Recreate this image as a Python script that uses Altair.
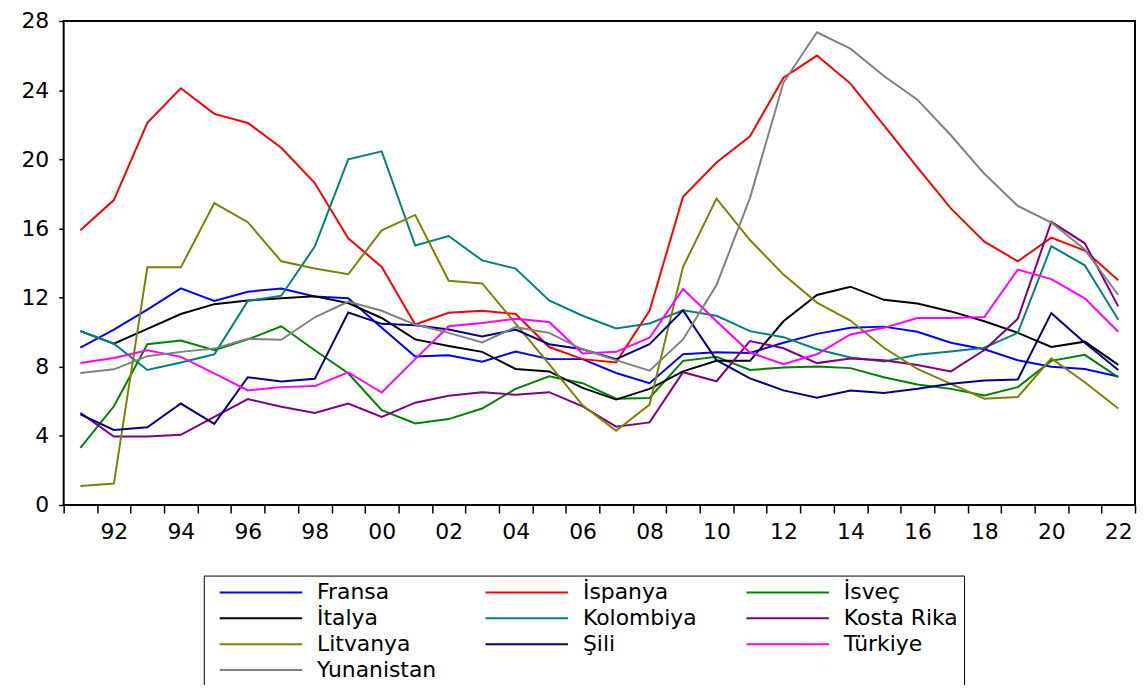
import altair as alt
import pandas as pd

years = list(range(1991, 2023))

countries = ["Fransa", "İspanya", "İsveç", "İtalya", "Kolombiya",
             "Kosta Rika", "Litvanya", "Şili", "Türkiye", "Yunanistan"]
colors = ["#0000FF", "#FF0000", "#008000", "#000000", "#008080",
          "#800080", "#808000", "#000080", "#FF00FF", "#808080"]

fransa = [9.10, 10.15, 11.30, 12.53, 11.81, 12.34, 12.53, 12.06, 11.96, 10.25, 8.59, 8.67, 8.29, 8.88, 8.44, 8.44,
          7.64, 7.05, 8.72, 8.84, 8.80, 9.39, 9.90, 10.25, 10.32, 10.02, 9.39, 9.01, 8.38, 8.00, 7.87, 7.43]
ispanya = [15.90, 17.64, 22.11, 24.11, 22.63, 22.10, 20.67, 18.63, 15.43, 13.77, 10.44, 11.12, 11.24, 11.05, 9.14, 8.44,
           8.25, 11.24, 17.83, 19.81, 21.33, 24.72, 26.00, 24.38, 21.96, 19.54, 17.16, 15.24, 14.10, 15.47, 14.72, 13.01]
isvec = [3.30, 5.71, 9.30, 9.52, 8.95, 9.58, 10.34, 8.95, 7.62, 5.49, 4.72, 4.97, 5.58, 6.72, 7.45, 7.05,
         6.15, 6.19, 8.34, 8.57, 7.81, 7.96, 8.02, 7.92, 7.39, 6.97, 6.72, 6.34, 6.82, 8.34, 8.69, 7.39]
italya = [10.06, 9.33, 10.19, 11.05, 11.62, 11.83, 11.96, 12.08, 11.68, 10.82, 9.58, 9.20, 8.86, 7.87, 7.73, 6.78,
          6.10, 6.72, 7.73, 8.34, 8.34, 10.63, 12.15, 12.63, 11.87, 11.66, 11.20, 10.63, 9.96, 9.14, 9.45, 8.11]
kolombiya = [10.06, 9.33, 7.81, 8.25, 8.72, 11.81, 12.11, 14.95, 20.00, 20.46, 15.01, 15.56, 14.15, 13.68, 11.83, 10.95,
             10.21, 10.50, 11.26, 10.95, 10.06, 9.71, 9.01, 8.53, 8.30, 8.69, 8.88, 9.10, 9.96, 14.97, 13.87, 10.72]
kosta_rika = [5.33, 3.96, 3.96, 4.06, 5.10, 6.13, 5.68, 5.33, 5.87, 5.10, 5.92, 6.32, 6.53, 6.38, 6.53, 5.71,
              4.53, 4.78, 7.68, 7.16, 9.49, 9.07, 8.21, 8.48, 8.38, 8.10, 7.73, 8.97, 10.78, 16.38, 15.14, 11.49]
litvanya = [1.10, 1.24, 13.75, 13.75, 17.47, 16.36, 14.10, 13.68, 13.35, 15.89, 16.78, 12.97, 12.82, 10.50, 8.15, 5.77,
            4.29, 5.81, 13.77, 17.73, 15.33, 13.33, 11.71, 10.67, 9.10, 7.87, 7.01, 6.15, 6.25, 8.48, 7.10, 5.58]
sili = [5.24, 4.34, 4.50, 5.87, 4.69, 7.39, 7.14, 7.30, 11.14, 10.48, 10.40, 10.15, 9.75, 10.15, 9.30, 9.01,
        8.44, 9.30, 11.26, 8.38, 7.33, 6.63, 6.21, 6.63, 6.48, 6.72, 7.01, 7.20, 7.26, 11.10, 9.39, 7.81]
turkiye = [8.21, 8.50, 8.95, 8.57, 7.62, 6.63, 6.82, 6.88, 7.68, 6.51, 8.44, 10.34, 10.53, 10.78, 10.59, 8.76,
           8.86, 9.68, 12.50, 10.63, 8.82, 8.15, 8.72, 9.87, 10.25, 10.82, 10.82, 10.88, 13.62, 13.07, 11.96, 10.02]
yunanistan = [7.64, 7.85, 8.61, 8.86, 9.05, 9.62, 9.56, 10.86, 11.77, 11.24, 10.44, 9.96, 9.41, 10.29, 9.96, 9.01,
              8.38, 7.77, 9.58, 12.72, 17.77, 24.44, 27.35, 26.40, 24.82, 23.45, 21.39, 19.16, 17.30, 16.34, 14.78, 12.15]

series = [fransa, ispanya, isvec, italya, kolombiya, kosta_rika, litvanya, sili, turkiye, yunanistan]

y_ticks = [0, 4, 8, 12, 16, 20, 24, 28]
x_tick_values = [y - 0.5 for y in range(1991, 2024)]

rows = []
for ci, (name, vals) in enumerate(zip(countries, series)):
    for yr, v in zip(years, vals):
        rows.append({"Yil": yr, "Deger": v, "Ulke": name, "ord": ci})
df = pd.DataFrame(rows)

W, H = 1078, 487
half = W / 32 / 2

chart = alt.Chart(df).mark_line(strokeWidth=2).encode(
    x=alt.X("Yil:Q",
            scale=alt.Scale(domain=[1990.5, 2022.5], nice=False, zero=False),
            axis=alt.Axis(values=x_tick_values, title=None, grid=False, domain=False,
                          tickSize=8, tickColor="black", tickWidth=1.5,
                          labelOffset=half, labelPadding=9, labelFlush=False, labelOverlap=False,
                          labelExpr="(datum.value + 0.5) % 2 == 0 ? slice(toString(datum.value + 0.5), 2) : ''",
                          labelFont="DejaVu Sans", labelFontSize=22, labelColor="black")),
    y=alt.Y("Deger:Q",
            scale=alt.Scale(domain=[0, 28], nice=False),
            axis=alt.Axis(values=y_ticks, title=None, grid=False, domain=False,
                          tickSize=5, tickColor="black", tickWidth=1.5, labelPadding=10,
                          labelFont="DejaVu Sans", labelFontSize=22, labelColor="black")),
    color=alt.Color("Ulke:N",
                    scale=alt.Scale(domain=countries, range=colors),
                    legend=alt.Legend(title=None, orient="none", legendX=141, legendY=558,
                                      direction="horizontal",
                                      columns=3, columnPadding=39.5, rowPadding=4,
                                      symbolType="stroke", symbolSize=6889, symbolStrokeWidth=2,
                                      clipHeight=22,
                                      symbolOffset=9, labelOffset=14,
                                      labelFont="DejaVu Sans", labelFontSize=22, labelColor="black",
                                      labelLimit=400,
                                      padding=6, strokeColor="black", fillColor="white")),
    order=alt.Order("ord:Q"),
    detail="Ulke:N",
).properties(
    width=W, height=H,
    background="white",
    autosize=alt.AutoSizeParams(type="none"),
    padding={"left": 56, "top": 11, "right": 2, "bottom": 179},
).configure_view(
    stroke="black", strokeWidth=2
)

chart.save("out.html", embed_options={"renderer": "svg", "actions": False})
